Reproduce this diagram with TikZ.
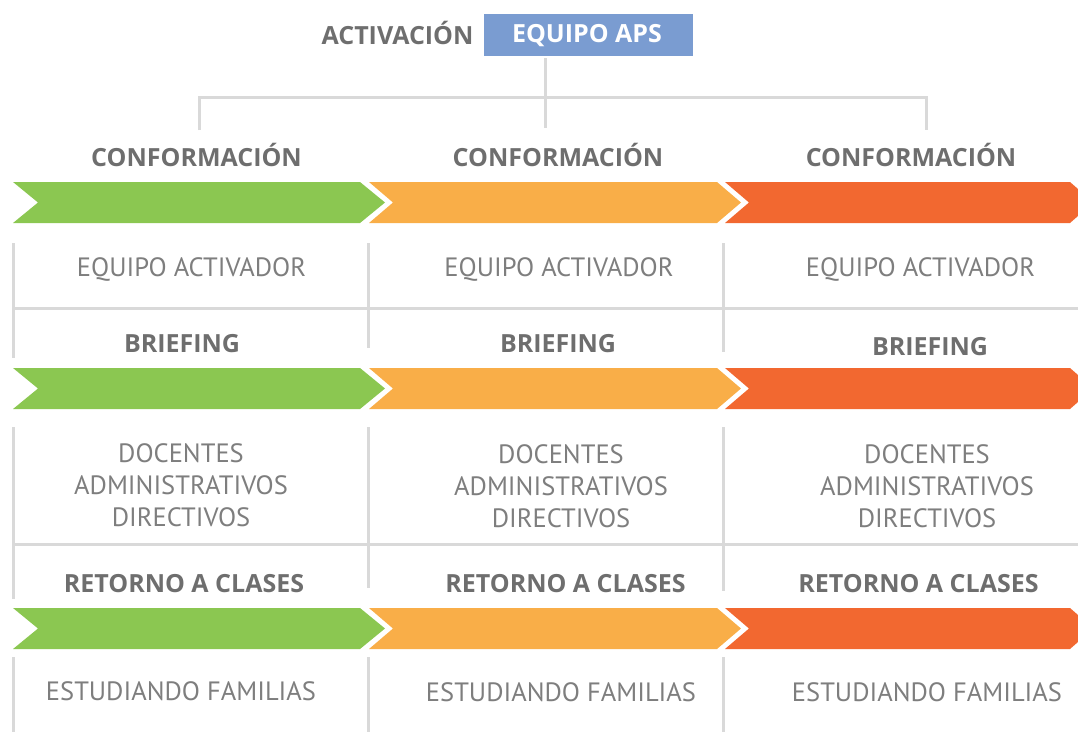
\documentclass[tikz,border=0pt]{standalone}
\usepackage{fontspec}
\setmainfont{PT Sans}
\newfontfamily\negrita{Open Sans}
\definecolor{verde}{HTML}{8BC751}
\definecolor{naranja}{HTML}{F9AE48}
\definecolor{rojo}{HTML}{F26830}
\definecolor{azul}{HTML}{7A9CD1}
\definecolor{grisfuerte}{HTML}{6E6E6E}
\definecolor{grissuave}{HTML}{7E7E7E}
\definecolor{grislinea}{HTML}{D9D9D9}
\tikzset{
 titulo/.style={inner sep=0pt, anchor=base, text=grisfuerte, font=\negrita\bfseries\fontsize{25}{25}\selectfont},
 cuerpo/.style={inner sep=0pt, anchor=base, text=grissuave, font=\fontsize{26.5}{26.5}\selectfont},
 bloque/.style={inner sep=0pt, align=center, text=grissuave, font=\fontsize{26.5}{32}\selectfont},
 rejilla/.style={draw=grislinea, line width=3pt},
}
\begin{document}
\begin{tikzpicture}[x=1pt,y=-1pt]
 \useasboundingbox (0,0) rectangle (1078,732);
 \node[titulo] (activacion) at (397.5,44) {ACTIVACIÓN};
 \node[fill=azul, minimum width=209pt, minimum height=42pt, inner sep=0pt] (aps) at (588.5,35) {};
 \node[titulo, text=white] (apstexto) at (587,42) {EQUIPO APS};
 \coordinate (raiz) at (545.5,58);
 \coordinate (nudo) at (545.5,97);
 \node[titulo] (conf1) at (196.5,166) {CONFORMACIÓN};
 \node[titulo] (conf2) at (558,166) {CONFORMACIÓN};
 \node[titulo] (conf3) at (911,166) {CONFORMACIÓN};
 \coordinate (pie1) at (199,130);
 \coordinate (pie2) at (545.5,128);
 \coordinate (pie3) at (926,130);
 \draw[rejilla] (raiz) -- (pie2);
 \draw[rejilla] (pie1) |- (nudo) -| (pie3);
 \fill[verde](13,182)--(360,182)--(385,202.5)--(360,223)--(13,223)--(38,202.5)--cycle;
 \fill[naranja](369,182)--(717,182)--(741,202.5)--(717,223)--(369,223)--(393,202.5)--cycle;
 \fill[rojo](725,182)--(1070,182)--(1078,189)--(1078,216)--(1070,223)--(725,223)--(749,202.5)--cycle;
 \draw[rejilla](13,243)--(13,358);
 \draw[rejilla](368,243)--(368,348);
 \draw[rejilla](723,243)--(723,352);
 \draw[rejilla](13,308)--(1078,308);
 \node[cuerpo] (equipo1) at (191.5,276) {EQUIPO ACTIVADOR};
 \node[cuerpo] (equipo2) at (559,276) {EQUIPO ACTIVADOR};
 \node[cuerpo] (equipo3) at (920.5,276) {EQUIPO ACTIVADOR};
 \node[titulo] (brief1) at (182,352) {BRIEFING};
 \node[titulo] (brief2) at (558,352) {BRIEFING};
 \node[titulo] (brief3) at (930,355) {BRIEFING};
 \fill[verde](13,368)--(360,368)--(385,388.5)--(360,409)--(13,409)--(38,388.5)--cycle;
 \fill[naranja](369,368)--(717,368)--(741,388.5)--(717,409)--(369,409)--(393,388.5)--cycle;
 \fill[rojo](725,368)--(1070,368)--(1078,375)--(1078,402)--(1070,409)--(725,409)--(749,388.5)--cycle;
 \draw[rejilla](13,427)--(13,599);
 \draw[rejilla](368,427)--(368,588);
 \draw[rejilla](723,427)--(723,591);
 \draw[rejilla](13,544)--(1078,544);
 \node[bloque] (personal1) at (181,485) {DOCENTES\\ADMINISTRATIVOS\\DIRECTIVOS};
 \node[bloque] (personal2) at (561,486) {DOCENTES\\ADMINISTRATIVOS\\DIRECTIVOS};
 \node[bloque] (personal3) at (927,486) {DOCENTES\\ADMINISTRATIVOS\\DIRECTIVOS};
 \node[titulo] (retorno1) at (184,592) {RETORNO A CLASES};
 \node[titulo] (retorno2) at (565.5,592) {RETORNO A CLASES};
 \node[titulo] (retorno3) at (918.5,592) {RETORNO A CLASES};
 \fill[verde](13,608)--(360,608)--(385,628.5)--(360,649)--(13,649)--(38,628.5)--cycle;
 \fill[naranja](369,608)--(717,608)--(741,628.5)--(717,649)--(369,649)--(393,628.5)--cycle;
 \fill[rojo](725,608)--(1070,608)--(1078,615)--(1078,642)--(1070,649)--(725,649)--(749,628.5)--cycle;
 \draw[rejilla](13,657)--(13,732);
 \draw[rejilla](368,657)--(368,732);
 \draw[rejilla](723,657)--(723,732);
 \node[cuerpo] (familias1) at (181,700) {ESTUDIANDO FAMILIAS};
 \node[cuerpo] (familias2) at (561,701) {ESTUDIANDO FAMILIAS};
 \node[cuerpo] (familias3) at (927,701) {ESTUDIANDO FAMILIAS};
\end{tikzpicture}
\end{document}
